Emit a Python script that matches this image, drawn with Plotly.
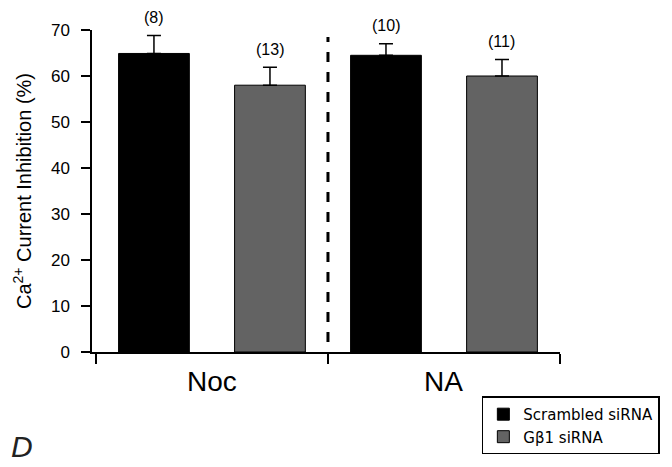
import plotly.graph_objects as go

groups = ["Noc", "NA"]
series_names = ["Scrambled siRNA", "Gβ1 siRNA"]
series_colors = ["#000000", "#636363"]
values = {"Scrambled siRNA": [64.9, 64.5], "Gβ1 siRNA": [58.0, 60.0]}
errors = {"Scrambled siRNA": [3.9, 2.5], "Gβ1 siRNA": [3.9, 3.6]}
counts = {"Scrambled siRNA": ["(8)", "(10)"], "Gβ1 siRNA": ["(13)", "(11)"]}
offsets = [0.25, 0.75]
y_ticks = [0, 10, 20, 30, 40, 50, 60, 70]

FONT = "Liberation Sans, Arial, sans-serif"

fig = go.Figure()
for si, name in enumerate(series_names):
    xs = [gi + offsets[si] for gi in range(len(groups))]
    fig.add_trace(go.Bar(
        x=xs, y=values[name], name=name, width=0.305,
        marker=dict(color=series_colors[si], line=dict(color="#000000", width=1)),
        error_y=dict(type="data", array=errors[name], arrayminus=[0] * len(groups),
                     symmetric=False, color="#000000", thickness=1.5, width=7),
    ))
    for gi, x in enumerate(xs):
        fig.add_annotation(x=x, y=values[name][gi] + errors[name][gi],
                           text=counts[name][gi], showarrow=False, yshift=18,
                           font=dict(size=16, color="#000", family=FONT))

for gi, g in enumerate(groups):
    fig.add_annotation(x=gi + 0.5, y=0, text=g, showarrow=False, yshift=-29,
                       font=dict(size=28, color="#000", family=FONT))

fig.add_shape(type="line", x0=1, x1=1, y0=2.2, y1=68.5, xref="x", yref="y",
              line=dict(color="#000", width=3, dash="10px,10px"))

fig.add_annotation(x=-0.15, y=-0.295, xref="paper", yref="paper", text="<i>D</i>",
                   showarrow=False, xanchor="center", yanchor="middle",
                   font=dict(size=30, color="#222", family=FONT))

fig.update_layout(
    width=672, height=467,
    margin=dict(l=92, r=112, t=30, b=112),
    plot_bgcolor="white", paper_bgcolor="white",
    barmode="overlay",
    showlegend=True,
    legend=dict(x=0.833, y=-0.138, xanchor="left", yanchor="top",
                bordercolor="#000", borderwidth=1.5, bgcolor="white",
                font=dict(size=15, color="#000", family="DejaVu Sans, sans-serif"),
                itemwidth=30, tracegroupgap=6),
    font=dict(family=FONT, color="#000"),
)
fig.update_xaxes(range=[-0.017, 2.0], tickvals=[0, 1, 2], ticktext=["", "", ""],
                 ticks="outside", ticklen=10, tickwidth=1.5, tickcolor="#000",
                 showline=True, linecolor="#000", linewidth=1.5,
                 showgrid=False, zeroline=False, fixedrange=True)
fig.update_yaxes(range=[0, 70], tickvals=y_ticks, ticks="outside", ticklen=9,
                 tickwidth=1.5, tickcolor="#000", ticklabelstandoff=8,
                 showline=True, linecolor="#000", linewidth=1.5,
                 showgrid=False, zeroline=False, fixedrange=True,
                 tickfont=dict(size=17, color="#000", family=FONT),
                 title=dict(text="Ca<sup>2+</sup> Current Inhibition (%)",
                            font=dict(size=20, color="#000", family=FONT), standoff=14))

fig.write_html("out.html", config={"displayModeBar": False},
               post_script="document.body.style.margin='0';document.body.style.padding='0';")
